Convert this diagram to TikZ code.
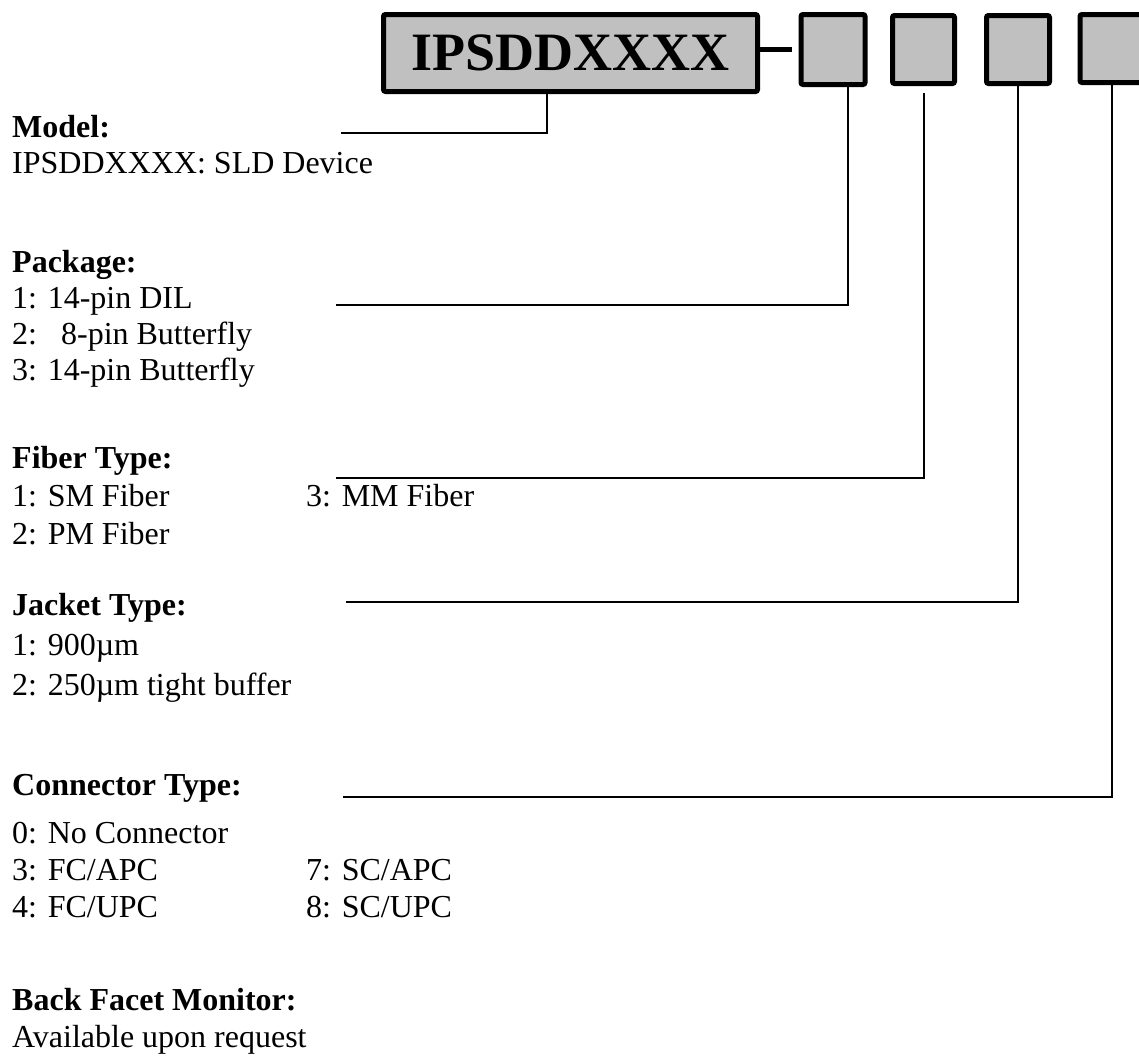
\documentclass[tikz,border=0pt]{standalone}
\usepackage{fontspec}
\setmainfont{Liberation Serif}
\definecolor{boxgray}{RGB}{192,192,192}

\begin{document}
\begin{tikzpicture}[x=1pt,y=-1pt,
    box/.style={draw,line width=5pt,fill=boxgray,rounded corners=2pt,minimum width=64pt,minimum height=70pt,inner sep=0pt},
    txt/.style={anchor=base west,inner sep=0pt,font=\fontsize{32}{36}\selectfont},
    head/.style={txt,font=\fontsize{32}{36}\selectfont\bfseries},
    conn/.style={line width=2pt}]
    \useasboundingbox (0,0) rectangle (1139,1055);

    \node[box,minimum width=374pt,minimum height=77pt,font=\fontsize{54}{60}\selectfont\bfseries] (m) at (570.5,53) {IPSDDXXXX};
    \node[box] (b1) at (833,49.5) {};
    \node[box,minimum width=62pt,minimum height=68pt] (b2) at (923.5,49.5) {};
    \node[box,minimum width=63pt,minimum height=68pt] (b3) at (1018,49.5) {};
    \node[box,minimum height=68pt] (b4) at (1112,48.5) {};
    \draw[line width=5pt,shorten >=7pt] (m.east |- b1.west) -- (b1.west);

    \node[head] (h1) at (12,137) {Model:};
    \node[txt] (t11) at (12,173) {IPSDDXXXX: SLD Device};

    \node[head] (h2) at (12,272) {Package:};
    \node[txt] (t21) at (12,308) {1: 14-pin DIL};
    \node[txt] (t22) at (12,344) {2:~~~8-pin Butterfly};
    \node[txt] (t23) at (12,380) {3: 14-pin Butterfly};

    \node[head] (h3) at (12,468) {Fiber Type:};
    \node[txt] (t31) at (12,506) {1: SM Fiber};
    \node[txt] (t32) at (12,544) {2: PM Fiber};
    \node[txt] (t33) at (306,506) {3: MM Fiber};

    \node[head] (h4) at (12,615) {Jacket Type:};
    \node[txt] (t41) at (12,655) {1: 900µm};
    \node[txt] (t42) at (12,695) {2: 250µm tight buffer};

    \node[head] (h5) at (12,795) {Connector Type:};
    \node[txt] (t51) at (12,843) {0: No Connector};
    \node[txt] (t52) at (12,880) {3: FC/APC};
    \node[txt] (t53) at (12,917) {4: FC/UPC};
    \node[txt] (t54) at (306,880) {7: SC/APC};
    \node[txt] (t55) at (306,917) {8: SC/UPC};

    \node[head] (h6) at (12,1010) {Back Facet Monitor:};
    \node[txt] (t61) at (12,1047) {Available upon request};

    \coordinate (e0) at (341,133);
    \coordinate (e1) at (336,305);
    \coordinate (e2) at (336,478);
    \coordinate (e3) at (346,602);
    \coordinate (e4) at (343,797);
    \draw[conn] (e0) -| ([xshift=-23.5pt]m.south);
    \draw[conn] (e1) -| ([xshift=15pt]b1.south);
    \draw[conn] (e2) -| ([yshift=-7pt]b2.south);
    \draw[conn] (e3) -| (b3.south);
    \draw[conn] (e4) -| (b4.south);
\end{tikzpicture}
\end{document}
